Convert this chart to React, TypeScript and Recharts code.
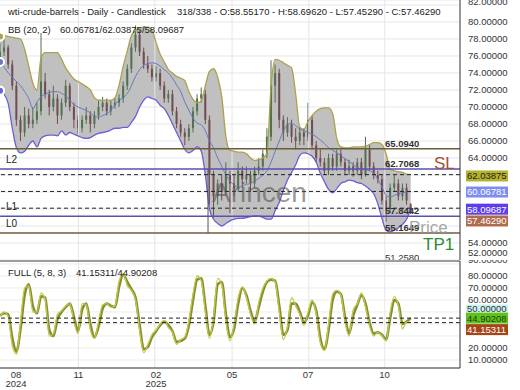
import {
  ComposedChart, Bar, Line, Area,
  XAxis, YAxis, CartesianGrid, ReferenceLine,
} from 'recharts';

// ~4 px per sample (x index 0..100)
const opens = [
  75.5, 76.5, 77.0, 75.0, 72.5, 68.5, 67.0, 69.0, 68.0, 68.5,
  69.5, 73.0, 71.5, 70.0, 71.0, 69.0, 70.5, 72.5, 70.0, 68.5,
  67.5, 68.5, 69.0, 68.0, 69.0, 70.0, 70.5, 69.5, 70.2, 70.5,
  71.0, 72.5, 74.5, 77.0, 78.5, 76.5, 75.0, 74.5, 73.5, 74.0,
  72.5, 71.0, 71.5, 69.5, 68.0, 67.0, 66.5, 67.5, 69.5, 71.0,
  71.5, 68.5, 62.0, 59.5, 61.0, 60.0, 62.0, 61.0, 60.5, 62.5,
  61.5, 62.0, 61.0, 62.5, 63.0, 64.5, 66.5, 72.5, 74.0, 68.5,
  67.0, 68.0, 66.5, 66.0, 67.0, 66.5, 68.5, 65.5, 64.0, 63.5,
  62.5, 64.0, 63.0, 64.5, 63.5, 62.5, 63.0, 62.5, 63.5, 62.0,
  65.0, 63.0, 62.0, 61.5, 59.0, 58.0, 60.5, 61.0, 59.5, 60.5,
  58.5517,
];
const highs = [
  77.5, 78.0, 77.3, 75.5, 73.0, 69.0, 70.0, 69.8, 70.0, 70.5,
  78.7, 74.0, 72.0, 72.5, 71.5, 71.0, 73.2, 72.8, 70.5, 69.0,
  69.0, 70.0, 69.5, 69.5, 70.8, 71.2, 71.0, 70.8, 71.0, 71.5,
  73.0, 75.0, 77.5, 79.6, 79.0, 77.0, 76.0, 75.0, 74.8, 74.5,
  73.0, 72.0, 72.0, 70.0, 68.5, 67.5, 68.0, 70.0, 71.5, 72.3,
  72.0, 69.0, 62.5, 61.5, 62.0, 63.5, 62.5, 62.0, 63.5, 63.0,
  63.0, 62.5, 63.0, 64.0, 65.0, 67.5, 75.5, 75.0, 74.5, 69.0,
  68.8, 68.5, 67.5, 67.8, 67.5, 70.5, 69.0, 66.0, 65.0, 64.0,
  64.5, 64.5, 65.0, 65.0, 64.0, 63.8, 63.5, 64.0, 64.0, 66.5,
  65.5, 63.5, 62.5, 62.0, 59.5, 61.0, 62.0, 61.5, 61.0, 61.0,
  58.6962,
];
const lows = [
  75.0, 76.0, 74.5, 72.0, 67.8, 66.0, 66.5, 67.5, 67.5, 68.0,
  69.0, 71.0, 69.0, 69.5, 68.0, 68.5, 70.0, 69.5, 67.5, 66.8,
  67.0, 68.0, 67.0, 67.5, 68.5, 69.5, 69.0, 69.0, 69.8, 70.0,
  70.5, 72.0, 74.0, 76.5, 76.0, 74.5, 74.0, 73.0, 73.0, 72.0,
  70.5, 70.5, 69.0, 67.5, 66.5, 65.5, 66.0, 67.0, 69.0, 70.5,
  68.0, 58.5, 57.0, 58.5, 59.0, 59.5, 57.5, 59.5, 60.0, 60.5,
  61.0, 60.0, 60.5, 62.0, 62.5, 64.0, 66.0, 70.5, 67.5, 66.0,
  66.5, 65.8, 65.0, 65.5, 65.5, 66.0, 65.0, 63.5, 63.0, 62.0,
  62.0, 62.5, 62.5, 63.0, 62.0, 62.0, 61.8, 62.0, 61.5, 61.8,
  62.5, 61.5, 61.0, 58.5, 56.5, 57.5, 60.0, 59.0, 59.0, 58.5,
  57.4529,
];
const closes = [
  76.5, 77.0, 75.0, 72.5, 68.5, 67.0, 69.0, 68.0, 68.5, 69.5,
  73.0, 71.5, 70.0, 71.0, 69.0, 70.5, 72.5, 70.0, 68.5, 67.5,
  68.5, 69.0, 68.0, 69.0, 70.0, 70.5, 69.5, 70.2, 70.5, 71.0,
  72.5, 74.5, 77.0, 78.5, 76.5, 75.0, 74.5, 73.5, 74.0, 72.5,
  71.0, 71.5, 69.5, 68.0, 67.0, 66.5, 67.5, 69.5, 71.0, 71.5,
  68.5, 62.0, 59.5, 61.0, 60.0, 62.0, 61.0, 60.5, 62.5, 61.5,
  62.0, 61.0, 62.5, 63.0, 64.5, 66.5, 72.5, 74.0, 68.5, 67.0,
  68.0, 66.5, 66.0, 67.0, 66.5, 68.5, 65.5, 64.0, 63.5, 62.5,
  64.0, 63.0, 64.5, 63.5, 62.5, 63.0, 62.5, 63.5, 62.0, 65.0,
  63.0, 62.0, 61.5, 59.0, 58.0, 60.5, 61.0, 59.5, 60.5, 59.0,
  57.4629,
];
const bbUpper = [
  78.3, 78.4, 78.3, 78.2, 78.1, 78.0, 76.8, 74.8, 72.8, 72.0,
  75.8, 76.4, 76.4, 76.4, 76.4, 75.6, 74.6, 73.9, 73.3, 73.0,
  72.7, 72.4, 72.0, 71.1, 70.8, 70.8, 70.8, 70.8, 71.1, 72.6,
  74.8, 76.6, 78.4, 79.0, 79.3, 79.4, 79.4, 79.0, 77.6, 76.2,
  75.3, 74.4, 74.0, 73.6, 73.4, 73.1, 71.8, 70.9, 70.5, 70.7,
  72.5, 74.2, 74.5, 73.5, 71.2, 66.5, 64.9, 64.8, 64.7, 64.7,
  64.5, 64.0, 63.7, 63.8, 64.0, 64.6, 72.5, 75.6, 75.5, 75.2,
  74.9, 74.6, 71.5, 67.6, 67.4, 68.3, 69.0, 69.5, 69.8, 69.9,
  69.9, 69.2, 66.3, 65.3, 65.2, 65.2, 65.3, 65.3, 65.3, 65.4,
  65.6, 65.8, 65.8, 65.6, 64.5, 62.7, 62.5, 62.4, 62.3, 62.1,
  62.03875,
];
const bbMid = [
  75.3, 74.7, 74.0, 73.5, 73.0, 72.5, 71.8, 71.0, 69.8, 70.6,
  71.2, 71.5, 71.7, 71.8, 71.8, 71.6, 71.3, 70.8, 70.3, 70.0,
  69.8, 69.6, 69.3, 68.9, 68.8, 69.0, 69.2, 69.6, 70.3, 70.8,
  71.1, 71.6, 72.5, 73.6, 74.4, 74.9, 75.1, 75.2, 75.1, 74.8,
  74.4, 74.0, 73.4, 72.6, 71.8, 70.6, 69.6, 68.7, 68.1, 67.9,
  67.2, 66.0, 65.2, 64.0, 63.0, 62.0, 61.3, 60.8, 60.6, 60.7,
  60.9, 61.0, 61.3, 61.6, 62.0, 62.5, 63.5, 64.8, 66.0, 67.2,
  67.9, 68.1, 67.8, 67.4, 67.2, 67.0, 66.8, 66.5, 66.1, 65.7,
  65.2, 64.9, 64.6, 64.3, 63.9, 63.6, 63.2, 62.9, 62.7, 62.6,
  62.5, 62.2, 61.5, 60.6, 59.6, 59.4, 59.6, 59.8, 59.9, 60.0,
  60.06781,
];
const bbLower = [
  71.9, 71.5, 70.4, 67.5, 65.2, 64.6, 64.8, 65.5, 66.0, 65.3,
  66.3, 66.6, 66.7, 66.7, 66.6, 67.2, 66.7, 67.0, 66.8, 66.6,
  66.4, 66.3, 66.4, 66.7, 66.9, 67.0, 67.1, 67.3, 67.5, 67.5,
  67.6, 67.6, 68.2, 68.9, 70.0, 70.8, 71.2, 71.0, 70.8, 70.2,
  69.8, 69.0, 68.0, 67.0, 66.0, 65.0, 64.6, 64.9, 65.3, 64.8,
  62.0, 58.0, 56.8, 56.3, 56.0, 56.3, 56.6, 56.8, 56.9, 56.9,
  57.0, 57.1, 57.2, 57.2, 57.0, 56.8, 56.8, 57.8, 58.8, 60.2,
  61.4, 62.3, 63.2, 64.3, 64.6, 64.5, 64.2, 63.5, 62.2, 61.2,
  60.3, 59.9, 60.4, 61.0, 61.2, 61.4, 61.3, 61.1, 61.0, 60.7,
  60.3, 59.8, 58.6, 56.9, 55.5, 55.3, 55.5, 55.8, 56.2, 56.8,
  58.09687,
];
const stochK = [
  46, 50, 46, 22, 15, 42, 70, 72, 50, 50,
  66, 60, 30, 32, 48, 51, 55, 57, 42, 32,
  57, 56, 35, 28, 42, 56, 57, 54, 55, 76,
  82, 72, 68, 60, 34, 16, 23, 31, 35, 40,
  43, 37, 33, 23, 27, 29, 43, 65, 80, 76,
  50, 28, 46, 78, 73, 42, 26, 40, 62, 71,
  62, 48, 40, 58, 70, 76, 78, 75, 50, 27,
  38, 62, 55, 48, 39, 50, 60, 48, 24, 18,
  40, 65, 68, 64, 42, 30, 52, 57, 66, 54,
  38, 30, 33, 30, 26, 50, 63, 55, 36, 42,
  41.15311,
];
const stochD = [
  47, 49, 48, 28, 17, 36, 64, 73, 55, 49,
  63, 62, 35, 30, 44, 50, 54, 57, 46, 34,
  52, 57, 40, 29, 38, 53, 57, 55, 54, 71,
  81, 75, 69, 62, 39, 19, 21, 29, 34, 39,
  42, 39, 34, 25, 26, 28, 39, 60, 77, 78,
  55, 31, 42, 73, 75, 48, 29, 36, 57, 70,
  64, 51, 42, 54, 67, 75, 77, 76, 55, 31,
  35, 57, 57, 50, 41, 47, 58, 51, 28, 19,
  35, 60, 67, 65, 46, 32, 47, 56, 64, 57,
  41, 32, 33, 31, 27, 45, 60, 57, 40, 42,
  44.90208,
];

const priceTicks = [52, 54, 56, 58, 60, 62, 64, 66, 68, 70, 72, 74, 76, 78, 80, 82];
const hiddenPriceTicks = [56, 58, 60, 62];
const stochTicks = [10, 20, 30, 40, 50, 60, 70, 80, 90];
const hiddenStochTicks = [30, 40, 50];
const monthTicks = [3.9, 19.1, 38, 56.5, 75, 93.6];
const monthLabels = ['08', '11', '02', '05', '07', '10'];
const yearLabels = ['2024', '', '2025', '', '', ''];
const gridLines = [19.1, 37.7, 56.5, 75.2, 93.7];

const rows = closes.map((c, i) => ({
  i,
  open: opens[i], high: highs[i], low: lows[i], close: c,
  upper: bbUpper[i], mid: bbMid[i], lower: bbLower[i],
  k: stochK[i], d: stochD[i],
}));

const FONT = 'Liberation Sans, Arial, Roboto, sans-serif';

function Candle(props: any) {
  const { x, y, width, height, payload } = props;
  const top = Math.min(y, y + height);
  const h = Math.abs(height);
  const span = payload.high - payload.low || 1;
  const py = (v: number) => top + ((payload.high - v) / span) * h;
  const up = payload.close >= payload.open;
  const color = up ? '#53704f' : '#714c52';
  const cx = x + width / 2;
  const bTop = py(Math.max(payload.open, payload.close));
  const bBot = py(Math.min(payload.open, payload.close));
  return (
    <g>
      <line x1={cx} x2={cx} y1={top} y2={top + h} stroke={color} strokeWidth={1} />
      <rect x={x} y={bTop} width={width} height={Math.max(1, bBot - bTop)} fill={color} />
    </g>
  );
}

function PriceTick(props: any) {
  const { x, y, payload } = props;
  if (hiddenPriceTicks.includes(payload.value)) return <g />;
  let ty = Math.min(y, 253);
  if (payload.value === 82) ty = y - 3;
  return (
    <text x={x + 8} y={ty} dy={3.4} fontSize={9.5} fill="#333" fontFamily={FONT}>
      {payload.value.toFixed(5)}
    </text>
  );
}

function StochTick(props: any) {
  const { x, y, payload } = props;
  if (hiddenStochTicks.includes(payload.value)) return <g />;
  const ty = payload.value === 90 ? y - 4 : y;
  return (
    <text x={x + 8} y={ty} dy={3.4} fontSize={9.5} fill="#333" fontFamily={FONT}>
      {payload.value.toFixed(5)}
    </text>
  );
}

function MonthTick(props: any) {
  const { x, y, index } = props;
  return (
    <g>
      <text x={x} y={y + 9.5} textAnchor="middle" fontSize={9.5} fill="#333" fontFamily={FONT}>
        {monthLabels[index]}
      </text>
      {yearLabels[index] ? (
        <text x={x} y={y + 19} textAnchor="middle" fontSize={9.5} fill="#333" fontFamily={FONT}>
          {yearLabels[index]}
        </text>
      ) : null}
    </g>
  );
}

const badge = (text: string, bg: string, fg: string, dy: number, h = 11) => (props: any) => {
  const vb = props.viewBox;
  const bx = vb.x + vb.width + 6;
  const by = vb.y + dy;
  return (
    <g>
      <rect x={bx} y={by - h / 2} width={42} height={h} fill={bg} />
      <text x={bx + 1} y={by} dy={3.4} fontSize={9.5} fill={fg} fontFamily={FONT}>{text}</text>
    </g>
  );
};

const levelText = (text: string) => (props: any) => {
  const vb = props.viewBox;
  return (
    <text x={vb.x + 385} y={vb.y - 2} fontSize={9.5} fontWeight={600} fill="#333" fontFamily={FONT}>
      {text}
    </text>
  );
};

const overlay = (left: number, top: number, size: number, color: string, text: string, extra: any = {}) => (
  <div
    style={{
      position: 'absolute', left, top, fontSize: size, lineHeight: `${size}px`,
      color, fontFamily: FONT, whiteSpace: 'nowrap', ...extra,
    }}
  >
    {text}
  </div>
);

export default function App() {
  return (
    <div style={{ position: 'absolute', left: 0, top: 0, width: 520, height: 390, background: '#fff', overflow: 'hidden', fontFamily: FONT }}>
      <div style={{ position: 'absolute', left: 0, top: 0 }}>
        <ComposedChart width={520} height={260} data={rows} margin={{ top: 0, right: 0, bottom: 0, left: 0 }}>
          <CartesianGrid vertical={false} stroke="#e6e6e6" />
          <XAxis type="number" dataKey="i" domain={[0, 112]} hide />
          <YAxis
            orientation="right" width={60} domain={[52, 82.588]} allowDataOverflow
            ticks={priceTicks} interval={0} tickLine={false} tickSize={0} tickMargin={0}
            axisLine={{ stroke: '#333' }} tick={(p: any) => <PriceTick {...p} />}
          />
          {gridLines.map((g) => (
            <ReferenceLine key={g} x={g} stroke="#e6e6e6" />
          ))}
          <Area
            dataKey={(d: any) => [d.lower, d.upper]} type="monotone"
            fill="#b9b9b9" fillOpacity={0.9} stroke="none" isAnimationActive={false}
          />
          <Line dataKey="upper" type="monotone" stroke="#aba24c" strokeWidth={1.3} dot={false} isAnimationActive={false} />
          <Line dataKey="lower" type="monotone" stroke="#6b5ed6" strokeWidth={1.3} dot={false} isAnimationActive={false} />
          <Line dataKey="mid" type="monotone" stroke="#6877c4" strokeWidth={1} dot={false} isAnimationActive={false} />
          <Bar dataKey={(d: any) => [d.low, d.high]} barSize={2} shape={(p: any) => <Candle {...p} />} isAnimationActive={false} />

          <ReferenceLine y={65.094} stroke="#6c5c3b" strokeWidth={1.5} label={levelText('65.0940')} />
          <ReferenceLine y={62.7068} stroke="#5a50b0" strokeWidth={1.5} label={levelText('62.7068')} />
          <ReferenceLine y={57.1442} stroke="#5a50b0" strokeWidth={1.5} label={levelText('57.8442')} />
          <ReferenceLine y={55.1649} stroke="#6c5c3b" strokeWidth={1.5} label={levelText('55.1649')} />
          <ReferenceLine
            segment={[{ x: 50.65, y: 62.7068 }, { x: 50.65, y: 55.1649 }]}
            stroke="#555" strokeWidth={1}
          />
          <ReferenceLine y={62.03875} stroke="#222" strokeDasharray="4 3" label={badge('62.03875', '#b5b22e', '#222', 1.3)} />
          <ReferenceLine y={60.06781} stroke="#222" strokeDasharray="4 3" label={badge('60.06781', '#7f8cf0', '#fff', 0.6)} />
          <ReferenceLine y={58.09687} stroke="#222" strokeDasharray="4 3" label={badge('58.09687', '#5c3ded', '#fff', 1)} />
          <ReferenceLine y={57.4629} stroke="none" label={badge('57.46290', '#b06a4c', '#fff', 7.4)} />
        </ComposedChart>
      </div>

      <div style={{ position: 'absolute', left: 0, top: 260 }}>
        <ComposedChart width={520} height={130} data={rows} margin={{ top: 1, right: 0, bottom: 0, left: 0 }}>
          <CartesianGrid vertical={false} stroke="#ececec" />
          <XAxis
            type="number" dataKey="i" domain={[0, 112]} ticks={monthTicks} interval={0}
            tickLine={false} tickSize={0} tickMargin={0} height={22}
            axisLine={{ stroke: '#333' }} tick={(p: any) => <MonthTick {...p} />}
          />
          <YAxis
            orientation="right" width={60} domain={[3.33, 92.5]} allowDataOverflow
            ticks={stochTicks} interval={0} tickLine={false} tickSize={0} tickMargin={0}
            axisLine={{ stroke: '#333' }} tick={(p: any) => <StochTick {...p} />}
          />
          {gridLines.map((g) => (
            <ReferenceLine key={g} x={g} stroke="#e6e6e6" />
          ))}
          <ReferenceLine y={92.5} stroke="#444" strokeWidth={1.2} />
          <Line dataKey="d" type="monotone" stroke="#8c8a34" strokeWidth={2.6} dot={false} isAnimationActive={false} />
          <Line dataKey="k" type="monotone" stroke="#b9cc44" strokeWidth={1.3} dot={false} isAnimationActive={false} />
          <ReferenceLine y={50} stroke="none" label={badge('50.00000', '#c9f2f2', '#333', -3.5, 8)} />
          <ReferenceLine y={44.90208} stroke="#222" strokeDasharray="4 3" label={badge('44.90208', '#5ec41c', '#1f3d0a', 0)} />
          <ReferenceLine y={41.15311} stroke="#222" strokeDasharray="4 3" label={badge('41.15311', '#a64418', '#fff', 7)} />
        </ComposedChart>
      </div>

      {overlay(8, 7, 9.5, '#222', 'wti-crude-barrels - Daily - Candlestick')}
      {overlay(177, 7, 9.5, '#222', '318/338 - O:58.55170 - H:58.69620 - L:57.45290 - C:57.46290')}
      {overlay(8, 25, 9.5, '#222', 'BB (20, 2)')}
      {overlay(60, 25, 9.5, '#222', '60.06781/62.03875/58.09687')}
      {overlay(8, 268, 9.5, '#222', 'FULL (5, 8, 3)')}
      {overlay(76, 268, 9.5, '#222', '41.15311/44.90208')}
      {overlay(6, 155, 10, '#222', 'L2')}
      {overlay(6, 202, 10, '#222', 'L1')}
      {overlay(6, 219, 10, '#222', 'L0')}
      {overlay(385, 253, 9.5, '#333', '51.2580', { height: 7, overflow: 'hidden' })}
      {overlay(212, 179, 28, 'rgba(85,85,85,0.6)', 'Arincen')}
      {overlay(434, 154.5, 17, '#a0522d', 'SL')}
      {overlay(423, 235.5, 17, '#2e8b2e', 'TP1')}
      {overlay(409, 218.5, 17, 'rgba(150,150,150,0.85)', 'Price')}
    </div>
  );
}
